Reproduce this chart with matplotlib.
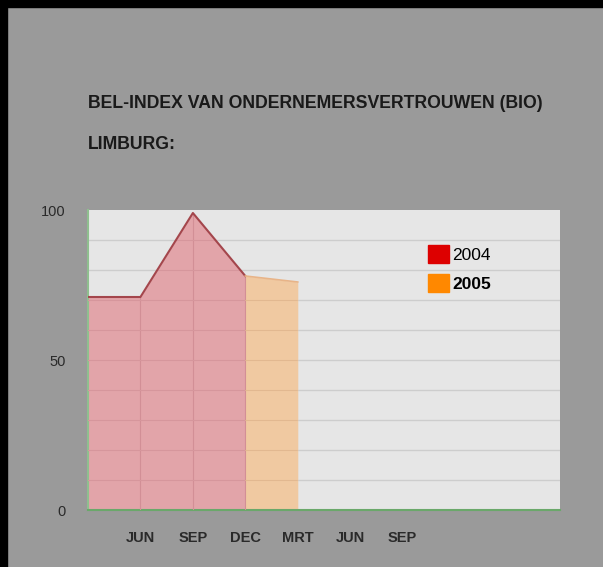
import matplotlib.pyplot as plt
from matplotlib.patches import Patch, Rectangle

# data
month_labels = ['', 'JUN', 'SEP', 'DEC', 'MRT', 'JUN', 'SEP', '', '', '']
x_2004 = [0, 1, 2, 3]
bio_2004 = [71, 71, 99, 78]
x_2005 = [3, 4]
bio_2005 = [78, 76]
y_ticks = [0, 50, 100]

plt.rcParams['font.family'] = ['Liberation Sans', 'DejaVu Sans']

W, H = 603, 567
fig = plt.figure(figsize=(W / 100, H / 100), dpi=100, facecolor='#9a9a9a')

# black border top and left
fig.add_artist(Rectangle((0, 1 - 7 / H), 1, 7 / H, transform=fig.transFigure,
                         color='black', zorder=10))
fig.add_artist(Rectangle((0, 0), 7 / W, 1, transform=fig.transFigure,
                         color='black', zorder=10))

fig.text(88 / W, 1 - 103 / H, 'BEL-INDEX VAN ONDERNEMERSVERTROUWEN (BIO)',
         fontsize=12.7, fontweight='bold', color='#1a1a1a', va='center')
fig.text(88 / W, 1 - 145 / H, 'LIMBURG:',
         fontsize=12.7, fontweight='bold', color='#1a1a1a', va='center')

ax = fig.add_axes([88 / W, (H - 510) / H, 472 / W, 300 / H])
ax.set_facecolor('#e6e6e6')
ax.set_xlim(0, 9)
ax.set_ylim(0, 100)

# horizontal grid
for v in range(10, 100, 10):
    ax.axhline(v, color='#cdcdcd', lw=1, zorder=1)

f04 = ax.fill_between(x_2004, bio_2004, 0, color='#e2a4a9', lw=0, zorder=2)
f05 = ax.fill_between(x_2005, bio_2005, 0, color='#f0c9a1', lw=0, zorder=2)
ax.plot(x_2004, bio_2004, color='#a4464c', lw=1.5, zorder=4)
ax.plot(x_2005, bio_2005, color='#e8b488', lw=1.2, zorder=4)

# grid lines showing through the fills
for xi, v in zip(x_2004[1:], bio_2004[1:]):
    ax.vlines(xi, 0, v, color='#d28f96', lw=0.8, zorder=3)
for fill, c in [(f04, '#d6969c'), (f05, '#e2b890')]:
    for v in range(10, 100, 10):
        gl = ax.axhline(v, color=c, lw=0.8, zorder=3)
        gl.set_clip_path(fill.get_paths()[0], ax.transData)

ax.set_xticks(range(len(month_labels)))
ax.set_xticklabels(month_labels)
ax.set_yticks(y_ticks)
ax.tick_params(length=0)
ax.tick_params(axis='x', pad=15, labelsize=10.5)
ax.tick_params(axis='y', pad=16, labelsize=10.5)
for t in ax.get_xticklabels():
    t.set_fontweight('bold')
    t.set_color('#2a2a2a')
for t in ax.get_yticklabels():
    t.set_color('#2a2a2a')

for s in ['top', 'right']:
    ax.spines[s].set_visible(False)
ax.spines['left'].set_color('#8fbf8f')
ax.spines['bottom'].set_color('#6aa86a')
ax.spines['left'].set_linewidth(1.5)
ax.spines['bottom'].set_linewidth(1.5)

handles = [Patch(color='#dd0000'), Patch(color='#ff8800')]
leg = ax.legend(handles, ['2004', '2005'], loc='upper left',
                bbox_to_anchor=(340 / 472, 1 - 35 / 300), frameon=False,
                handlelength=1.2, handleheight=1.2, handletextpad=0.2,
                labelspacing=0.65, fontsize=12.5, borderaxespad=0,
                borderpad=0)
leg.get_texts()[1].set_fontweight('bold')

plt.savefig('out.png', dpi=100, facecolor=fig.get_facecolor())
